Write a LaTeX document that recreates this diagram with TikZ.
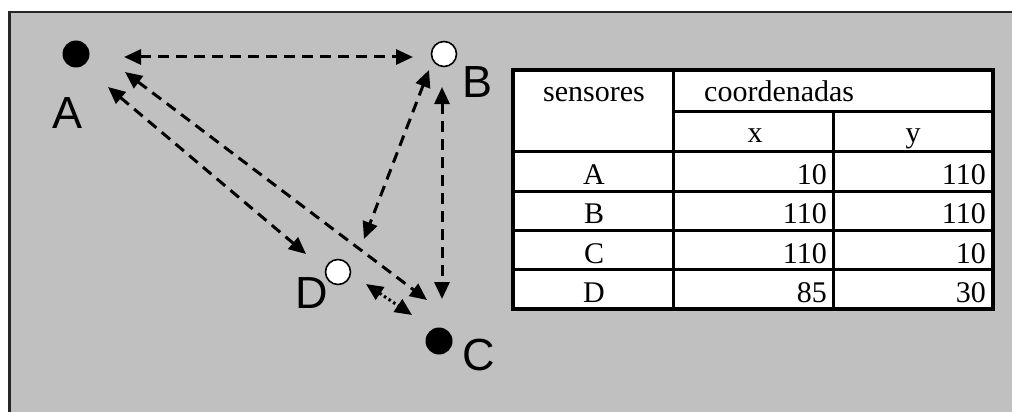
\documentclass[tikz,border=0pt]{standalone}
\usepackage{fontspec}
\setmainfont{Liberation Serif}
\newfontfamily\labelfont{Liberation Sans}
\usetikzlibrary{arrows.meta}
\definecolor{bggray}{RGB}{192,192,192}
\begin{document}
\begin{tikzpicture}[x=1pt,y=-1pt,
  tip/.tip={Triangle[length=17pt,width=15pt]},
  link/.style={line width=3pt, dash pattern=on 11pt off 7pt, tip-tip},
  dotlink/.style={line width=3pt, dash pattern=on 2.5pt off 3pt, tip-tip},
  blackdot/.style={circle, fill=black, minimum size=27pt, inner sep=0pt},
  whitedot/.style={circle, fill=white, draw=black, line width=1.6pt, minimum size=25pt, inner sep=0pt},
  lbl/.style={font=\labelfont\fontsize{45}{45}\selectfont, anchor=base, inner sep=0pt},
  cell/.style={font=\fontsize{30}{30}\selectfont, anchor=base, inner sep=0pt},
  cellr/.style={cell, anchor=base east},
  tline/.style={line width=3pt, line cap=rect}
]
\useasboundingbox (0,0) rectangle (1012,412);
% background
\fill[white] (0,0) rectangle (1012,412);
\fill[bggray] (8,11) rectangle (1012,412);
\draw[line width=2.5pt, black!85] (9.25,412) -- (9.25,12.25) -- (1012,12.25);

% sensors
\node[blackdot] (a) at (76,54) {};
\node[whitedot] (b) at (444,54) {};
\node[whitedot] (d) at (338,272) {};
\node[blackdot] (c) at (439,341) {};
\node[lbl] (la) at (68,128) {A};
\node[lbl] (lb) at (478,97) {B};
\node[lbl] (ld) at (312,308) {D};
\node[lbl] (lc) at (479,370) {C};

% connector ends
\coordinate (ab1) at (124,57);   \coordinate (ab2) at (413,57);
\coordinate (ad1) at (108,87);   \coordinate (ad2) at (306,254);
\coordinate (ac1) at (125,72);   \coordinate (ac2) at (427,300);
\coordinate (bd1) at (429,70);   \coordinate (bd2) at (364,239);
\coordinate (bc1) at (442,87);   \coordinate (bc2) at (442,299);
\coordinate (dc1) at (366,284);  \coordinate (dc2) at (412,315);
\draw[link] (ab1) -- (ab2);
\draw[link] (ad1) -- (ad2);
\draw[link] (ac1) -- (ac2);
\draw[link] (bd1) -- (bd2);
\draw[link] (bc1) -- (bc2);
\draw[dotlink] (dc1) -- (dc2);

% table
\fill[white] (513,70) rectangle (993,309);
\draw[tline] (673,111) -- (993,111);
\foreach \yy in {151,191,230,269} \draw[tline] (513,\yy) -- (993,\yy);
\draw[tline] (673,70) -- (673,309);
\draw[tline] (833,111) -- (833,309);
\draw[line width=3.5pt] (513,70) rectangle (993,309);

\node[cell] (hs) at (594,102) {sensores};
\node[cell, anchor=base west] (hc) at (704,102) {coordenadas};
\node[cell] (hx) at (755,142) {x};
\node[cell] (hy) at (913,142) {y};
\node[cell] (ra) at (594,184) {A};
\node[cellr] (rax) at (827,184) {10};
\node[cellr] (ray) at (986,184) {110};
\node[cell] (rb) at (594,223) {B};
\node[cellr] (rbx) at (827,223) {110};
\node[cellr] (rby) at (986,223) {110};
\node[cell] (rc) at (594,263) {C};
\node[cellr] (rcx) at (827,263) {110};
\node[cellr] (rcy) at (986,263) {10};
\node[cell] (rd) at (594,302) {D};
\node[cellr] (rdx) at (827,302) {85};
\node[cellr] (rdy) at (986,302) {30};
\end{tikzpicture}
\end{document}
